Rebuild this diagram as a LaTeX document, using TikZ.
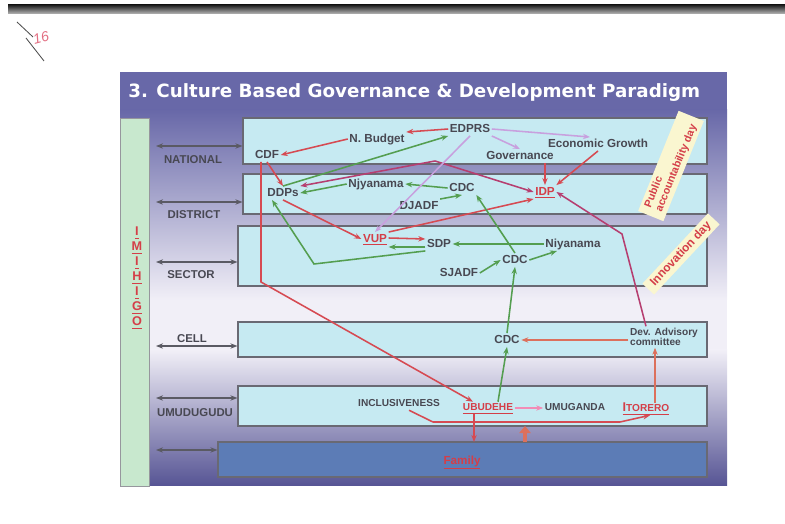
\documentclass[tikz,border=0pt]{standalone}
\usepackage{fontspec}
\setmainfont{Liberation Sans}
\newfontfamily\titlefont{DejaVu Sans}
\usepackage{tikz}
\usetikzlibrary{calc}
\usetikzlibrary{arrows.meta}
\usetikzlibrary{fit}

\definecolor{slidetop}{RGB}{104,104,168}
\definecolor{slidemid}{RGB}{241,239,247}
\definecolor{slidebot}{RGB}{86,84,148}
\definecolor{rowfill}{RGB}{198,234,242}
\definecolor{rowline}{RGB}{105,105,115}
\definecolor{famfill}{RGB}{92,124,182}
\definecolor{barfill}{RGB}{200,232,206}
\definecolor{txtgray}{RGB}{72,72,82}
\definecolor{txtred}{RGB}{212,62,72}
\definecolor{arrred}{RGB}{214,74,82}
\definecolor{arrmag}{RGB}{182,62,112}
\definecolor{arrgrn}{RGB}{84,158,80}
\definecolor{arrlav}{RGB}{200,160,222}
\definecolor{arrpnk}{RGB}{242,140,182}
\definecolor{arrsal}{RGB}{220,112,92}
\definecolor{banfill}{RGB}{250,246,208}
\definecolor{inkpink}{RGB}{226,110,130}

\tikzset{
  lbl/.style={inner sep=1pt, text=txtgray, font=\fontsize{8.3}{9}\selectfont\bfseries, text height=6pt, text depth=1.5pt},
  sml/.style={lbl, font=\fontsize{7.2}{7.6}\selectfont\bfseries, text height=5.2pt, text depth=1.3pt},
  redlbl/.style={lbl, text=txtred},
  lvl/.style={lbl, font=\fontsize{8.1}{9}\selectfont\bfseries},
  imh/.style={inner sep=0pt, text=txtred, font=\fontsize{9}{9}\selectfont\bfseries},
  rowbox/.style={draw=rowline, fill=rowfill, inner sep=0pt, line width=0.8pt},
  banner/.style={fill=banfill, text=txtred, inner sep=1pt, font=\fontsize{7.6}{8.4}\selectfont\bfseries},
  lvlarr/.style={<->, draw=txtgray!90, line width=1.3pt},
  redarr/.style={->, draw=arrred, line width=1.1pt},
  salarr/.style={->, draw=arrsal, line width=1.1pt},
  magarr/.style={->, draw=arrmag, line width=1.1pt},
  grnarr/.style={->, draw=arrgrn, line width=1.1pt},
  lavarr/.style={->, draw=arrlav, line width=1.1pt},
  pnkarr/.style={->, draw=arrpnk, line width=1.1pt},
  uparr/.style={draw=arrsal, line width=2.6pt, -{Triangle[length=5pt,width=8pt]}},
  note/.style={draw=gray!60!black, line width=0.6pt}
}

\begin{document}
\begin{tikzpicture}[x=0.025cm, y=-0.025cm, >={Stealth[length=5pt,width=3.8pt]}]
  \useasboundingbox (0,0) rectangle (785,524);

  \shade[top color=gray!25!black, bottom color=gray!55] (8,5) rectangle (785,14);
  \draw[note] (17,22) -- (33,37);
  \draw[note] (26,38) -- (44,61);
  \node[text=inkpink, rotate=15, font=\itshape\fontsize{10}{10}\selectfont] (pagenum) at (41,38) {16};

  \fill[slidetop] (120,72) rectangle (727,110);
  \shade[top color=slidetop, bottom color=slidemid] (120,110) rectangle (727,300);
  \fill[slidemid] (120,300) rectangle (727,350);
  \shade[top color=slidemid, bottom color=slidebot] (120,350) rectangle (727,486);

  \node[anchor=base west, inner sep=0pt, text=white, font=\titlefont\bfseries\fontsize{13}{15}\selectfont] (title) at (128,98) {3. Culture Based Governance \& Development Paradigm};

  \draw[draw=rowline!70, fill=barfill] (120,118) rectangle (149,486);
  \foreach \ltr [count=\i] in {I,M,I,H,I,G,O}
    \node[imh] (imh\i) at (137,{233+15*(\i-1)}) {\underline{\ltr}};

  \node[rowbox, fit={(243,118) (707,164)}] (natbox) {};
  \node[rowbox, fit={(243,174) (707,214)}] (distbox) {};
  \node[rowbox, fit={(238,226) (707,286)}] (sectbox) {};
  \node[rowbox, fit={(238,322) (707,357)}] (cellbox) {};
  \node[rowbox, fit={(238,386) (707,426)}] (umubox) {};
  \node[rowbox, fill=famfill, fit={(218,442) (707,477)}] (fambox) {};

  \node[lvl] (natlbl) at (193,160) {NATIONAL};
  \node[lvl] (distlbl) at (194,215) {DISTRICT};
  \node[lvl] (sectlbl) at (191,275) {SECTOR};
  \node[lvl] (celllbl) at (192,339) {CELL};
  \node[lvl] (umulbl) at (195,413) {UMUDUGUDU};

  \coordinate (natarr) at (156,146);
  \coordinate (distarr) at (156,202);
  \coordinate (sectarr) at (156,262);
  \coordinate (cellarr) at (156,346);
  \coordinate (umuarr) at (156,398);
  \coordinate (famarr) at (156,450);
  \draw[lvlarr] (natarr) -- (natarr -| natbox.west);
  \draw[lvlarr] (distarr) -- (distarr -| distbox.west);
  \draw[lvlarr] (sectarr) -- (sectarr -| sectbox.west);
  \draw[lvlarr] (cellarr) -- (cellarr -| cellbox.west);
  \draw[lvlarr] (umuarr) -- (umuarr -| umubox.west);
  \draw[lvlarr] (famarr) -- (famarr -| fambox.west);

  \node[banner, rotate=68, minimum width=2.7cm, minimum height=0.68cm, align=left] (pubday) at (671,166) {Public\\accountability day};
  \node[banner, rotate=47, minimum width=2.4cm, minimum height=0.4cm, font=\fontsize{8.4}{9}\selectfont\bfseries] (innoday) at (681,254) {Innovation day};

  \node[lbl] (edprs) at (470,129) {EDPRS};
  \node[lbl] (nbudget) at (377,139) {N. Budget};
  \node[lbl] (cdf) at (267,155) {CDF};
  \node[lbl] (ecgrowth) at (598,144) {Economic Growth};
  \node[lbl] (gov) at (520,156) {Governance};
  \node[lbl] (ddps) at (283,193) {DDPs};
  \node[lbl] (njyanama) at (376,184) {Njyanama};
  \node[lbl] (cdcdist) at (462,188) {CDC};
  \node[lbl] (djadf) at (419,206) {DJADF};
  \node[redlbl] (idp) at (545,192) {\underline{IDP}};
  \node[redlbl] (vup) at (375,239) {\underline{VUP}};
  \node[lbl] (sdp) at (439,244) {SDP};
  \node[lbl] (niyanama) at (573,244) {Niyanama};
  \node[lbl] (cdcsect) at (515,260) {CDC};
  \node[lbl] (sjadf) at (459,273) {SJADF};
  \node[lbl] (cdccell) at (507,340) {CDC};
  \node[sml, align=left, text height=, text depth=] (devadv) at (664,337) {Dev. Advisory\\committee};
  \node[sml] (incl) at (399,404) {INCLUSIVENESS};
  \node[sml, text=txtred] (ubudehe) at (488,408) {\underline{UBUDEHE}};
  \node[sml] (umuganda) at (575,408) {UMUGANDA};
  \node[sml, text=txtred] (itorero) at (646,409) {\underline{{\fontsize{9}{9}\selectfont I}TORERO}};
  \node[redlbl] (family) at (462,461) {\underline{Family}};

  \draw[redarr] (edprs.west) -- (nbudget.north east);
  \draw[redarr] (nbudget.west) -- (cdf.east);
  \draw[redarr] (cdf.south) -- (ddps.north);
  \draw[redarr] (ddps.south) -- (vup.west);
  \draw[redarr] ($(vup.east)+(0,-1)$) -- ($(sdp.west)+(0,-5)$);
  \draw[redarr] (vup.north east) -- (idp.south west);
  \draw[redarr] (ecgrowth.south) -- (idp.north east);
  \draw[redarr] (idp.north |- gov.south) -- (idp.north);
  \coordinate (cdfbend) at (261,282);
  \draw[redarr] (cdf.south -| cdfbend) -- (cdfbend) -- ($(ubudehe.north)+(-15,0)$);
  \draw[salarr] (devadv.west |- cdccell) -- (cdccell.east);
  \draw[salarr] ($(itorero.north)+(9,0)$) -- ($(devadv.south)+(-9,0)$);
  \coordinate (inclbend) at (433,422);
  \coordinate (itobend) at (620,422);
  \draw[redarr] ($(incl.south)+(10,0)$) -- (inclbend) -- (itobend) -- ($(itorero.south)+(4,0)$);
  \coordinate (famtop) at (474,442);
  \draw[redarr, line width=1.6pt] (ubudehe.south -| famtop) -- (famtop);
  \coordinate (famup) at (525,442);
  \coordinate (umulow) at (525,426);
  \draw[uparr] (famup) -- (umulow);

  \coordinate (magbend) at (435,161);
  \draw[magarr, <->] (ddps.north east) -- (magbend) -- (idp.west);
  \coordinate (advbend) at (622,234);
  \draw[magarr] ($(devadv.north)+(-18,0)$) -- (advbend) -- (idp.east);

  \draw[grnarr] (ddps.north) -- (edprs.south west);
  \draw[grnarr] (cdcdist.west) -- (njyanama.east);
  \draw[grnarr] (njyanama.west) -- (ddps.east);
  \draw[grnarr] (djadf.north east) -- (cdcdist.south);
  \draw[grnarr] (cdcsect.north) -- (cdcdist.south east);
  \draw[grnarr] (niyanama.west) -- (sdp.east);
  \draw[grnarr] ($(sdp.west)+(0,3)$) -- ($(vup.east)+(0,8)$);
  \coordinate (sdpbend) at (314,264);
  \draw[grnarr] (sdp.south west) -- (sdpbend) -- ($(ddps.south)+(-11,0)$);
  \draw[grnarr] (cdcsect.east) -- ($(niyanama.south)+(-16,0)$);
  \draw[grnarr] (sjadf.east) -- (cdcsect.west);
  \draw[grnarr] (cdccell.north) -- (cdcsect.south);
  \draw[grnarr] ($(ubudehe.north)+(10,0)$) -- (cdccell.south);

  \draw[lavarr] (edprs.east) -- ($(ecgrowth.north)+(-8,0)$);
  \draw[lavarr] (edprs.south east) -- (gov.north);
  \draw[lavarr] (edprs.south) -- (vup.north);

  \draw[pnkarr] (ubudehe.east) -- (umuganda.west);
\end{tikzpicture}
\end{document}
